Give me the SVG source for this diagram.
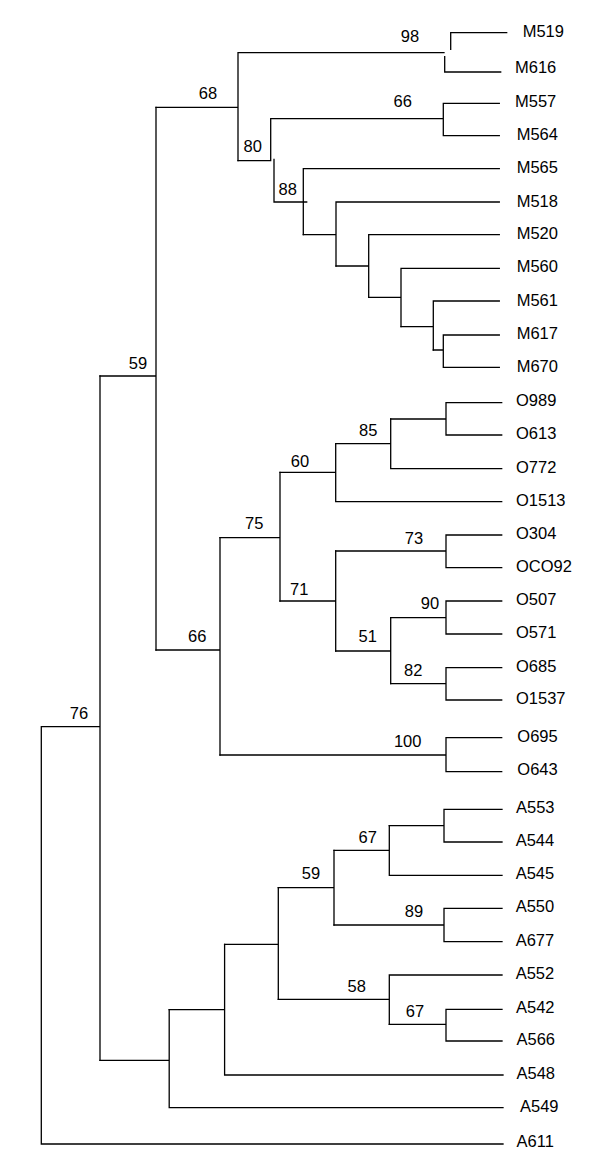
<svg xmlns="http://www.w3.org/2000/svg" width="600" height="1168" viewBox="0 0 600 1168">
<style>
.e{fill:none;stroke:#000;stroke-width:1.3;stroke-linecap:square}
text{font-family:"Liberation Sans",Arial,sans-serif;font-size:16.5px;fill:#000}
.b{text-anchor:middle}
</style>
<rect width="600" height="1168" fill="#fff"/>
<g id="connectors" class="e">
<path d="M450.7,49.3V32.7H506.7M444.7,56.7V72H500.7M238,52.7H444M238,52.7V160.7M156,107.3H238"/>
<path d="M238,160.7H270.7V118.7H443.3M443.3,103.3V135.7M443.3,103.3H499.3M443.3,135.7H499.3"/>
<path d="M274,159.3V202H306.7M303.3,168.7V234.7M303.3,168.7H499.3"/>
<path d="M303.3,234.7H336M336,202V266M336,202H499.3"/>
<path d="M336,266H368.7M368.7,234.7V297.3M368.7,234.7H499.3"/>
<path d="M368.7,297.3H401M401,268.3V326.7M401,268.3H499.3"/>
<path d="M401,326.7H433.3M433.3,301V350M433.3,301H499.3"/>
<path d="M433.3,350H443.3M443.3,335V367.3M443.3,335H499.3M443.3,367.3H499.3"/>
<path d="M100,376H156M156,107.3V650"/>
<path d="M156,650H220M220,537.7V755"/>
<path d="M220,537.7H280M280,472.3V601"/>
<path d="M280,472.3H335.7M335.7,443.7V501.7M335.7,501.7H501.7"/>
<path d="M335.7,443.7H390.7M390.7,419V468.7M390.7,468.7H501.7"/>
<path d="M390.7,419H446M446,402.7V435M446,402.7H501.7M446,435H501.7"/>
<path d="M280,601H335.7M335.7,551V651"/>
<path d="M335.7,551H446M446,535V567.7M446,535H501.7M446,567.7H501.7"/>
<path d="M335.7,651H390.7M390.7,617.7V683.7"/>
<path d="M390.7,617.7H446M446,601V634M446,601H501.7M446,634H501.7"/>
<path d="M390.7,683.7H446M446,667.7V700M446,667.7H501.7M446,700H501.7"/>
<path d="M220,755H446M446,737.7V771.7M446,737.7H501.7M446,771.7H501.7"/>
<path d="M41.3,726.7H100M100,376V1060.3M41.3,726.7V1144H503"/>
<path d="M100,1060.3H169.2M169.2,1009.7V1107.7H503"/>
<path d="M169.2,1009.7H224.6M224.6,944.3V1075H503"/>
<path d="M224.6,944.3H278.3M278.3,887.7V999.3"/>
<path d="M278.3,887.7H334M334,850.3V925"/>
<path d="M334,850.3H389.3M389.3,825.7V875.3H502"/>
<path d="M389.3,825.7H444M444,809.3V842M444,809.3H502M444,842H502"/>
<path d="M334,925H444M444,908.3V941.7M444,908.3H502M444,941.7H502"/>
<path d="M278.3,999.3H389.3M389.3,975V1024.3M389.3,975H502"/>
<path d="M389.3,1024.3H446M446,1009.3V1041M446,1009.3H502M446,1041H502"/>
</g>
<g id="leaf-M519"><text x="522.7" y="36.7">M519</text></g>
<g id="leaf-M616"><text x="515" y="73.3">M616</text></g>
<g id="leaf-M557"><text x="515" y="106.7">M557</text></g>
<g id="leaf-M564"><text x="516.7" y="140">M564</text></g>
<g id="leaf-M565"><text x="516.7" y="173.3">M565</text></g>
<g id="leaf-M518"><text x="516.7" y="206.5">M518</text></g>
<g id="leaf-M520"><text x="516.7" y="239">M520</text></g>
<g id="leaf-M560"><text x="516.7" y="272.3">M560</text></g>
<g id="leaf-M561"><text x="516.7" y="305.5">M561</text></g>
<g id="leaf-M617"><text x="516.7" y="339">M617</text></g>
<g id="leaf-M670"><text x="516.7" y="372">M670</text></g>
<g id="leaf-O989"><text x="516" y="405.7">O989</text></g>
<g id="leaf-O613"><text x="516" y="439">O613</text></g>
<g id="leaf-O772"><text x="516" y="472.7">O772</text></g>
<g id="leaf-O1513"><text x="516" y="505.7">O1513</text></g>
<g id="leaf-O304"><text x="516" y="539">O304</text></g>
<g id="leaf-OCO92"><text x="516" y="572">OCO92</text></g>
<g id="leaf-O507"><text x="516" y="605">O507</text></g>
<g id="leaf-O571"><text x="516" y="638">O571</text></g>
<g id="leaf-O685"><text x="516" y="671.5">O685</text></g>
<g id="leaf-O1537"><text x="516" y="704">O1537</text></g>
<g id="leaf-O695"><text x="517.3" y="741.7">O695</text></g>
<g id="leaf-O643"><text x="517.3" y="775">O643</text></g>
<g id="leaf-A553"><text x="516" y="813.3">A553</text></g>
<g id="leaf-A544"><text x="515.7" y="846">A544</text></g>
<g id="leaf-A545"><text x="515.7" y="879.3">A545</text></g>
<g id="leaf-A550"><text x="515.7" y="912.3">A550</text></g>
<g id="leaf-A677"><text x="515.7" y="945.7">A677</text></g>
<g id="leaf-A552"><text x="515.7" y="979">A552</text></g>
<g id="leaf-A542"><text x="516" y="1013">A542</text></g>
<g id="leaf-A566"><text x="516.5" y="1045">A566</text></g>
<g id="leaf-A548"><text x="516.5" y="1079">A548</text></g>
<g id="leaf-A549"><text x="520" y="1111.7">A549</text></g>
<g id="leaf-A611"><text x="516.5" y="1146.7">A611</text></g>
<g id="bs-98"><text class="b" x="410" y="41.7">98</text></g>
<g id="bs-68"><text class="b" x="208" y="99">68</text></g>
<g id="bs-80"><text class="b" x="252.7" y="151.7">80</text></g>
<g id="bs-66a"><text class="b" x="402.7" y="106.7">66</text></g>
<g id="bs-88"><text class="b" x="287.7" y="195">88</text></g>
<g id="bs-59a"><text class="b" x="138" y="369">59</text></g>
<g id="bs-85"><text class="b" x="368.3" y="436">85</text></g>
<g id="bs-60"><text class="b" x="300" y="466.7">60</text></g>
<g id="bs-75"><text class="b" x="254.3" y="529.3">75</text></g>
<g id="bs-73"><text class="b" x="414" y="544">73</text></g>
<g id="bs-71"><text class="b" x="299.3" y="595">71</text></g>
<g id="bs-90"><text class="b" x="430" y="609.3">90</text></g>
<g id="bs-51"><text class="b" x="367.7" y="641.7">51</text></g>
<g id="bs-66b"><text class="b" x="197.3" y="641.7">66</text></g>
<g id="bs-82"><text class="b" x="413.3" y="675.7">82</text></g>
<g id="bs-100"><text class="b" x="407.7" y="746.7">100</text></g>
<g id="bs-76"><text class="b" x="79" y="719.3">76</text></g>
<g id="bs-67a"><text class="b" x="367.7" y="842.7">67</text></g>
<g id="bs-59b"><text class="b" x="311" y="879.3">59</text></g>
<g id="bs-89"><text class="b" x="414" y="916.7">89</text></g>
<g id="bs-58"><text class="b" x="356.7" y="991.7">58</text></g>
<g id="bs-67b"><text class="b" x="415" y="1016.5">67</text></g>
</svg>
